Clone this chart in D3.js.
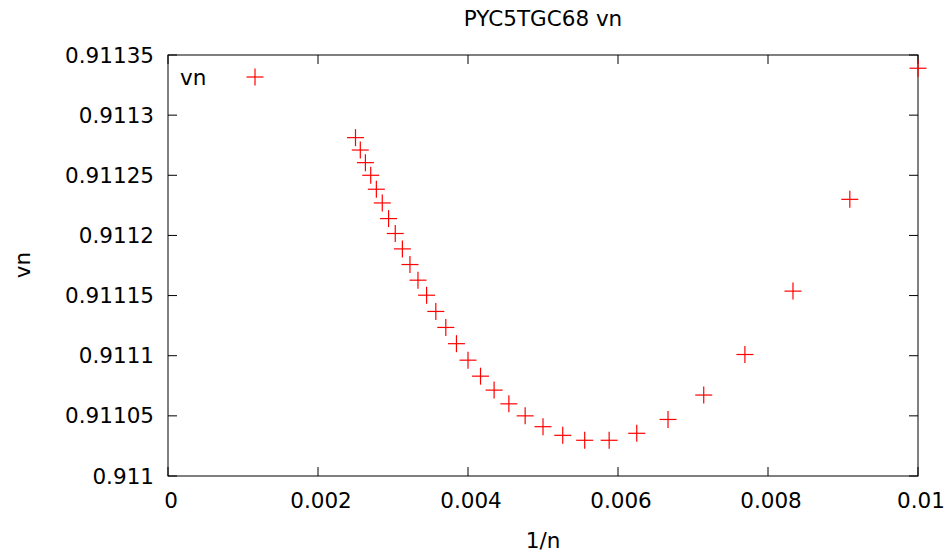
<html>
<script src='https://d3js.org/d3.v7.min.js'></script>
<style>
body {margin: 0; background: white;}
text {font-family: "DejaVu Sans", sans-serif; font-size: 21.5px; fill: black;}
</style>
<body>
<svg width=951 height=556></svg>
<script>
// readings from the picture: x = 1/n for n = 100..400 step 10
var invN = [0.01, 0.009091, 0.008333, 0.007692, 0.007143, 0.006667, 0.00625, 0.005882,
            0.005556, 0.005263, 0.005, 0.004762, 0.004545, 0.004348, 0.004167, 0.004,
            0.003846, 0.003704, 0.003571, 0.003448, 0.003333, 0.003226, 0.003125, 0.00303,
            0.002941, 0.002857, 0.002778, 0.002703, 0.002632, 0.002564, 0.0025];
var vn = [0.911339, 0.911230, 0.9111537, 0.911101, 0.9110673, 0.911047, 0.9110355, 0.9110297,
          0.9110297, 0.9110338, 0.911041, 0.911050, 0.911060, 0.9110714, 0.911083, 0.9110963,
          0.911110, 0.9111235, 0.9111368, 0.9111503, 0.9111628, 0.9111758, 0.9111888, 0.9112016,
          0.911214, 0.911227, 0.9112384, 0.911250, 0.9112605, 0.911271, 0.9112813];
var xTicks = [0, 0.002, 0.004, 0.006, 0.008, 0.01];
var yTicks = [0.911, 0.91105, 0.9111, 0.91115, 0.9112, 0.91125, 0.9113, 0.91135];

var pLeft = 168, pRight = 918, pTop = 55, pBottom = 476;
var svg = d3.select("svg");

var x = d3.scaleLinear().domain([0, 0.01]).range([pLeft, pRight]);
var y = d3.scaleLinear().domain([0.911, 0.91135]).range([pBottom, pTop]);

var fmt = function(d) { return String(+d.toFixed(6)); };

// ticks (inward, mirrored)
var g = svg.append("g").attr("stroke", "black").attr("stroke-width", 1);
yTicks.forEach(function(t) {
  g.append("line").attr("x1", pLeft).attr("x2", pLeft + 9).attr("y1", y(t)).attr("y2", y(t));
  g.append("line").attr("x1", pRight).attr("x2", pRight - 9).attr("y1", y(t)).attr("y2", y(t));
});
xTicks.forEach(function(t) {
  g.append("line").attr("x1", x(t)).attr("x2", x(t)).attr("y1", pBottom).attr("y2", pBottom - 9);
  g.append("line").attr("x1", x(t)).attr("x2", x(t)).attr("y1", pTop).attr("y2", pTop + 9);
});
svg.append("rect").attr("x", pLeft).attr("y", pTop)
   .attr("width", pRight - pLeft).attr("height", pBottom - pTop)
   .attr("fill", "none").attr("stroke", "black").attr("stroke-width", 1);

svg.append("g").selectAll("text").data(yTicks).enter().append("text")
   .attr("x", pLeft - 14).attr("y", function(d) { return y(d); })
   .attr("dy", "0.35em").style("text-anchor", "end").text(fmt);

svg.append("g").selectAll("text").data(xTicks).enter().append("text")
   .attr("x", function(d) { return x(d) + 3; }).attr("y", pBottom + 24)
   .attr("dy", "0.35em").style("text-anchor", "middle").text(fmt);

// points as "+" markers
var pts = svg.append("g").attr("stroke", "#ff0000").attr("stroke-width", 1.2);
var s = 8.5;
invN.forEach(function(d, i) {
  var px = x(d), py = y(vn[i]);
  pts.append("line").attr("x1", px - s).attr("x2", px + s).attr("y1", py).attr("y2", py);
  pts.append("line").attr("x1", px).attr("x2", px).attr("y1", py - s).attr("y2", py + s);
});

// legend
svg.append("text").attr("x", 180).attr("y", 77).attr("dy", "0.35em").text("vn");
pts.append("line").attr("x1", 255 - s).attr("x2", 255 + s).attr("y1", 77).attr("y2", 77);
pts.append("line").attr("x1", 255).attr("x2", 255).attr("y1", 77 - s).attr("y2", 77 + s);

// labels
svg.append("text").attr("x", 543).attr("y", 18).attr("dy", "0.35em")
   .style("text-anchor", "middle").text("PYC5TGC68 vn");
svg.append("text").attr("x", 543).attr("y", 540).attr("dy", "0.35em")
   .style("text-anchor", "middle").text("1/n");
svg.append("text").attr("transform", "translate(22,265) rotate(-90)").attr("dy", "0.35em")
   .style("text-anchor", "middle").text("vn");
</script>
</body>
</html>
